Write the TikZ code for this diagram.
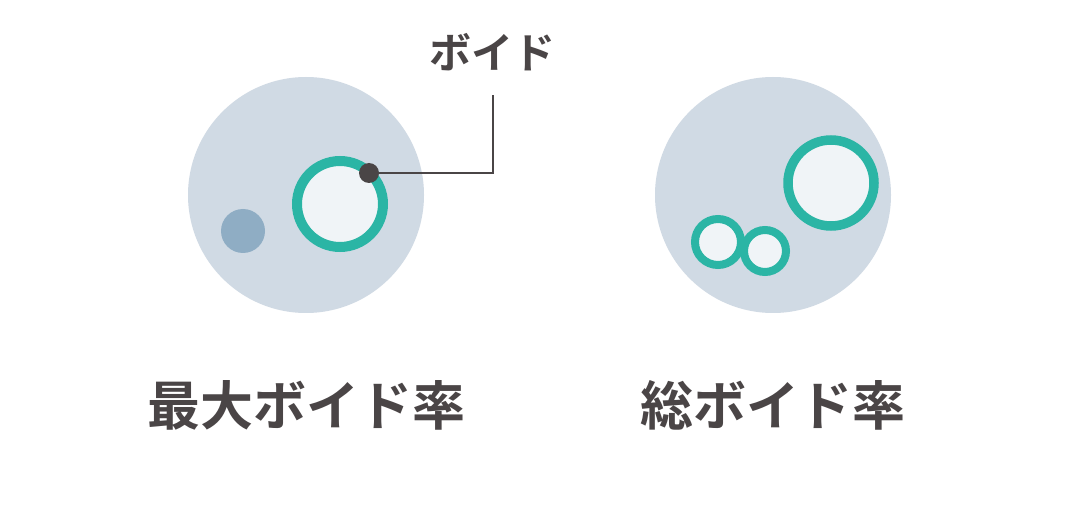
\documentclass[tikz,border=0pt]{standalone}
\usepackage{fontspec}
\newfontfamily\cjk{Noto Sans CJK JP Bold}
\definecolor{bg}{HTML}{D0DAE4}
\definecolor{teal}{HTML}{2BB5A5}
\definecolor{inner}{HTML}{F0F4F7}
\definecolor{dot}{HTML}{8FADC4}
\definecolor{ink}{HTML}{4A4546}
\begin{document}
\begin{tikzpicture}[x=1pt,y=-1pt,
  big/.style={circle,fill=bg,minimum size=236pt,inner sep=0pt},
  void/.style={circle,draw=teal,fill=inner,inner sep=0pt},
  lbl/.style={text=ink,font=\cjk\fontsize{53}{56}\selectfont}]
\useasboundingbox (0,0) rectangle (1080,505);
\fill[white] (0,0) rectangle (1080,505);
\node[big] (L) at (306,195) {};
\node[big] (R) at (773,195) {};
\node[circle,fill=dot,minimum size=44pt,inner sep=0pt] (b) at (243,231) {};
\node[void,line width=10pt,minimum size=86pt] (v1) at (340,204) {};
\node[circle,fill=ink,minimum size=20pt,inner sep=0pt] (d) at (369,173) {};
\coordinate (c) at (493,173);
\node[text=ink,font=\cjk\fontsize{42}{44}\selectfont] (t) at (492,52) {ボイド};
\draw[ink,line width=2pt] (d.center) -- (c) -- (493,95);
\node[void,line width=9.5pt,minimum size=86pt] (v2) at (831,183) {};
\node[void,line width=8pt,minimum size=46pt] (v3) at (718,242) {};
\node[void,line width=8pt,minimum size=42pt] (v4) at (765,251) {};
\node[lbl] (l1) at (306,405) {最大ボイド率};
\node[lbl] (l2) at (773,405) {総ボイド率};
\end{tikzpicture}
\end{document}
